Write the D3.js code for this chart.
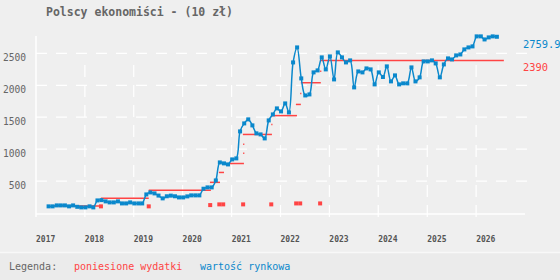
<!DOCTYPE html>
<html>
<head>
<meta charset="utf-8">
<script src="https://cdn.jsdelivr.net/npm/d3@7"></script>
<style>
  html, body { margin: 0; padding: 0; background: #efefef; }
  svg { display: block; font-family: "DejaVu Sans Mono", monospace; }
</style>
</head>
<body>
<svg id="chart" width="560" height="280"></svg>
<script>
// Market value, one reading per month starting April 2017
const marketStart = '2017-04-05';
const marketValues = [
  104, 104, 119, 119, 119, 104, 119, 97, 88, 88, 104, 88,            // 2017-04 .. 2018-03
  197, 202, 182, 166, 166, 182, 150, 150, 166, 150, 150, 150,        // 2018-04 .. 2019-03
  291, 322, 307, 273, 229, 262, 272, 262, 244, 244, 260, 276,        // 2019-04 .. 2020-03
  276, 276, 380, 401, 401, 510, 792, 777, 761, 839, 855, 1278,       // 2020-04 .. 2021-03
  1403, 1466, 1372, 1247, 1231, 1168, 1450, 1544, 1638, 1591, 1716, 1575, // 2021-04 .. 2022-03
  2358, 2593, 2108, 1841, 1857, 2202, 2233, 2437, 2249, 2452, 2092, 2515, // 2022-04 .. 2023-03
  2437, 2358, 2390, 1967, 2217, 2202, 2264, 2249, 2014, 2202, 2130, 2296, // 2023-04 .. 2024-03
  2061, 2155, 2014, 2030, 2030, 2280, 2061, 2124, 2374, 2374, 2390, 2343, // 2024-04 .. 2025-03
  2124, 2327, 2421, 2405, 2468, 2483, 2562, 2593, 2609, 2766, 2766, 2718, // 2025-04 .. 2026-03
  2750, 2766, 2759.9                                                   // 2026-04 .. 2026-06
];

// Money spent so far (cumulative), drawn as flat segments
const costFrom = ['2017-04-22', '2018-05-01', '2019-04-23', '2020-07-23', '2020-09-28', '2020-12-20',
  '2021-03-28', '2021-03-28', '2021-03-26', '2021-10-24', '2021-10-29', '2022-04-26',
  '2022-05-28', '2022-06-02', '2022-10-24', '2022-10-29'];
const costTo = ['2018-05-01', '2019-04-23', '2020-07-30', '2020-10-06', '2020-11-05', '2021-04-03',
  '2021-03-28', '2021-03-28', '2021-10-29', '2021-10-24', '2022-05-04', '2022-06-02',
  '2022-05-28', '2022-10-29', '2022-10-24', '2026-07-27'];
const costLevel = [110, 230, 355, 480, 635, 775, 935, 1075, 1230, 1385, 1525, 1700, 1870, 2040, 2220, 2390];

// Single purchases
const buyDates = ['2018-05-01', '2019-04-23', '2020-07-25', '2020-10-01', '2020-10-30',
  '2021-03-28', '2021-10-24', '2022-04-28', '2022-05-28', '2022-10-24'];
const buyValues = [104, 104, 124, 135, 135, 135, 135, 150, 150, 150];

const yTicks = [500, 1000, 1500, 2000, 2500];
const yearTicks = [2017, 2018, 2019, 2020, 2021, 2022, 2023, 2024, 2025, 2026];

const titleText = 'Polscy ekonomiści - (10 zł)';
const legendTitle = 'Legenda:';
const costName = 'poniesione wydatki';
const marketName = 'wartość rynkowa';

const BLUE = '#0a88cc';
const RED = '#ff4444';
const GRAY = '#666';

const parse = d3.timeParse('%Y-%m-%d');
const svg = d3.select('#chart');

const x = d3.scaleTime()
  .domain([new Date(2017, 0, 1), new Date(2027, 0, 1)])
  .range([36, 525]);
const y = d3.scaleLinear()
  .domain([0, 2800])
  .range([213, 34.2]);

const start = parse(marketStart);
const market = marketValues.map((v, i) => ({ date: d3.timeMonth.offset(start, i), value: v }));
const costs = costLevel.map((v, i) => ({ from: parse(costFrom[i]), to: parse(costTo[i]), value: v }));
const buys = buyValues.map((v, i) => ({ date: parse(buyDates[i]), value: v }));

// legend strip
svg.append('rect').attr('x', 0).attr('y', 253).attr('width', 560).attr('height', 27).attr('fill', '#ebebeb');
svg.append('line').attr('x1', 0).attr('x2', 560).attr('y1', 252.5).attr('y2', 252.5)
  .attr('stroke', '#f8f8f8').attr('stroke-width', 1.5);

// grid
svg.append('g').selectAll('line')
  .data(yTicks)
  .join('line')
  .attr('x1', 36).attr('x2', 527)
  .attr('y1', d => y(d)).attr('y2', d => y(d))
  .attr('stroke', '#fff').attr('stroke-width', 1.2)
  .attr('stroke-dasharray', '11,9');

svg.append('g').selectAll('line')
  .data(yearTicks.slice(1))
  .join('line')
  .attr('x1', d => x(new Date(d, 0, 1))).attr('x2', d => x(new Date(d, 0, 1)))
  .attr('y1', 217).attr('y2', 60)
  .attr('stroke', '#fff').attr('stroke-width', 1.2)
  .attr('stroke-dasharray', '12,8');

// axes lines
svg.append('line').attr('x1', 36).attr('x2', 36).attr('y1', 36).attr('y2', 217)
  .attr('stroke', '#fff').attr('stroke-width', 1.5);
svg.append('line').attr('x1', 36).attr('x2', 525).attr('y1', 214).attr('y2', 214)
  .attr('stroke', '#fff').attr('stroke-width', 1.5);

// y labels (hang just under their grid line)
svg.append('g').selectAll('text')
  .data(yTicks)
  .join('text')
  .attr('x', 26).attr('y', d => y(d) + 7.5)
  .attr('text-anchor', 'end')
  .attr('font-size', 9.6)
  .attr('fill', GRAY)
  .text(d => d);

// x labels
svg.append('g').selectAll('text')
  .data(yearTicks)
  .join('text')
  .attr('x', d => x(new Date(d, 0, 1)))
  .attr('y', 242)
  .attr('font-size', 8)
  .attr('font-weight', 'bold')
  .attr('fill', '#555')
  .text(d => d);

// cost segments
svg.append('g').selectAll('line')
  .data(costs)
  .join('line')
  .attr('x1', d => x(d.from))
  .attr('x2', d => Math.max(x(d.to), x(d.from) + 1.2))
  .attr('y1', d => y(d.value)).attr('y2', d => y(d.value))
  .attr('stroke', RED).attr('stroke-width', 1.5);

// single purchases
svg.append('g').selectAll('rect')
  .data(buys)
  .join('rect')
  .attr('x', d => x(d.date) - 2).attr('y', d => y(d.value) - 2)
  .attr('width', 4).attr('height', 4)
  .attr('fill', RED);

// market value line
const line = d3.line()
  .x(d => x(d.date))
  .y(d => y(d.value))
  .curve(d3.curveCatmullRom.alpha(0.5));

svg.append('path')
  .datum(market)
  .attr('d', line)
  .attr('fill', 'none')
  .attr('stroke', BLUE)
  .attr('stroke-width', 1.5);

svg.append('g').selectAll('rect')
  .data(market)
  .join('rect')
  .attr('x', d => x(d.date) - 2).attr('y', d => y(d.value) - 2)
  .attr('width', 4).attr('height', 4)
  .attr('fill', BLUE);

// end values
const lastMarket = market[market.length - 1];
const lastCost = costs[costs.length - 1];
svg.append('text').attr('x', 523).attr('y', y(lastMarket.value) + 11)
  .attr('font-size', 10.4).attr('fill', BLUE).text(lastMarket.value);
svg.append('text').attr('x', 523).attr('y', y(lastCost.value) + 11)
  .attr('font-size', 10.4).attr('fill', RED).text(lastCost.value);

// title
svg.append('text').attr('x', 46).attr('y', 15.7)
  .attr('font-size', 11.5).attr('font-weight', 'bold').attr('fill', GRAY)
  .text(titleText);

// legend
svg.append('text').attr('x', 9).attr('y', 270).attr('font-size', 10).attr('fill', GRAY).text(legendTitle);
svg.append('text').attr('x', 74).attr('y', 270).attr('font-size', 10).attr('fill', RED).text(costName);
svg.append('text').attr('x', 200).attr('y', 270).attr('font-size', 10).attr('fill', BLUE).text(marketName);
</script>
</body>
</html>
